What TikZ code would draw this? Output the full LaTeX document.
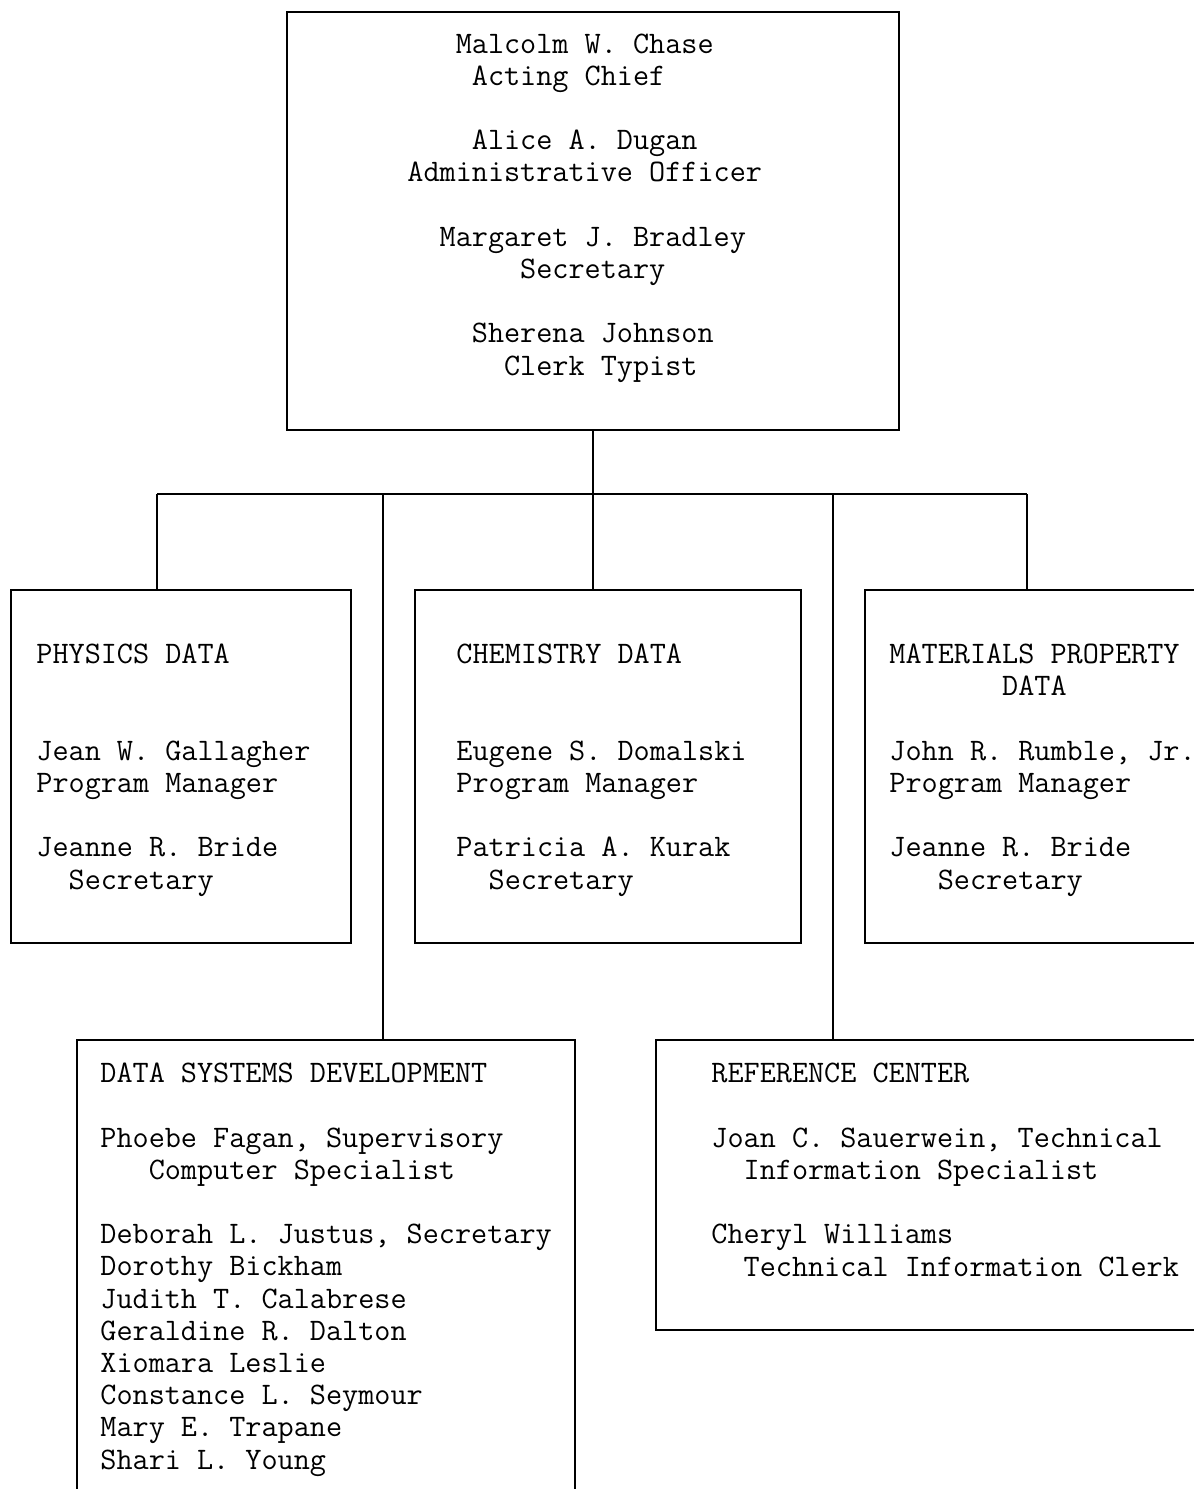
\documentclass[tikz,border=0pt]{standalone}
\usepackage{tikz}
\newcommand\chartfont{\fontsize{15.65}{16.1}\selectfont\ttfamily}
\newlength\chw
\settowidth\chw{\chartfont M}
\newcommand\ind[1]{\hspace*{#1\chw}}

\begin{document}
\begin{tikzpicture}[x=0.5pt, y=-0.5pt]
\tikzset{
  unit/.style={draw, line width=1pt, rectangle, anchor=north west, inner sep=0pt, outer sep=0pt},
  staff/.style={font=\chartfont, align=left, anchor=base west, inner sep=0pt},
  link/.style={line width=1pt}
}
\useasboundingbox (0,0) rectangle (1194,1489);
\clip (0,0) rectangle (1194,1489);

% boxes
\node[unit, minimum width=306pt, minimum height=209pt] (top) at (287,12) {};
\node[unit, minimum width=170pt, minimum height=176.5pt] (phys) at (11,590) {};
\node[unit, minimum width=193pt, minimum height=176.5pt] (chem) at (415,590) {};
\node[unit, minimum width=180pt, minimum height=176.5pt] (mat) at (865,590) {};
\node[unit, minimum width=249pt, minimum height=240pt] (dsd) at (77,1040) {};
\node[unit, minimum width=285pt, minimum height=145pt] (refc) at (656,1040) {};

% staff lists (placed at the baseline of the last line)
\node[staff] (toptxt) at (407,375) {\ind{3}Malcolm W. Chase\\
\ind{4}Acting Chief\\[16.1pt]
\ind{4}Alice A. Dugan\\
Administrative Officer\\[16.1pt]
\ind{2}Margaret J. Bradley\\
\ind{7}Secretary\\[16.1pt]
\ind{4}Sherena Johnson\\
\ind{6}Clerk Typist};

\node[staff] (phystxt) at (36,889) {PHYSICS DATA\\[32.2pt]
Jean W. Gallagher\\
Program Manager\\[16.1pt]
Jeanne R. Bride\\
\ind{2}Secretary};

\node[staff] (chemtxt) at (456,889) {CHEMISTRY DATA\\[32.2pt]
Eugene S. Domalski\\
Program Manager\\[16.1pt]
Patricia A. Kurak\\
\ind{2}Secretary};

\node[staff] (mattxt) at (889,889) {MATERIALS PROPERTY\\
\ind{7}DATA\\[16.1pt]
John R. Rumble, Jr.\\
Program Manager\\[16.1pt]
Jeanne R. Bride\\
\ind{3}Secretary};

\node[staff] (dsdtxt) at (100,1469) {DATA SYSTEMS DEVELOPMENT\\[16.1pt]
Phoebe Fagan, Supervisory\\
\ind{3}Computer Specialist\\[16.1pt]
Deborah L. Justus, Secretary\\
Dorothy Bickham\\
Judith T. Calabrese\\
Geraldine R. Dalton\\
Xiomara Leslie\\
Constance L. Seymour\\
Mary E. Trapane\\
Shari L. Young};

\node[staff] (refctxt) at (711,1276) {REFERENCE CENTER\\[16.1pt]
Joan C. Sauerwein, Technical\\
\ind{2}Information Specialist\\[16.1pt]
Cheryl Williams\\
\ind{2}Technical Information Clerk};

% connectors
\path (top.south) ++(0,64) coordinate (bus);
\path (phys.north west) ++(146,0) coordinate (physin);
\path (chem.north west) ++(178,0) coordinate (chemin);
\path (mat.north west) ++(162,0) coordinate (matin);
\path (dsd.north west) ++(306,0) coordinate (dsdin);
\path (refc.north west) ++(177,0) coordinate (refcin);
\draw[link] (top.south) -- (bus);
\draw[link] (physin |- bus) -- (matin |- bus);
\draw[link] (physin |- bus) -- (physin);
\draw[link] (chemin |- bus) -- (chemin);
\draw[link] (matin |- bus) -- (matin);
\draw[link] (dsdin |- bus) -- (dsdin);
\draw[link] (refcin |- bus) -- (refcin);
\end{tikzpicture}
\end{document}
